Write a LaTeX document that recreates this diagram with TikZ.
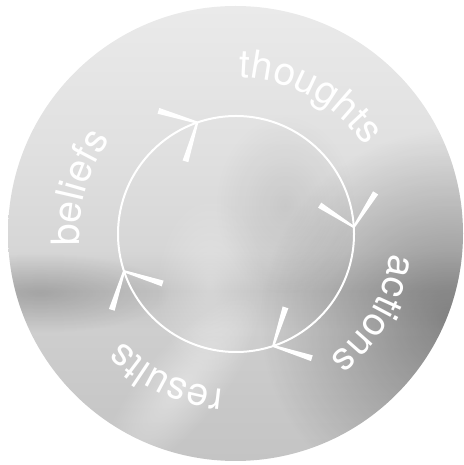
\documentclass[tikz,border=0pt]{standalone}
\usepackage{fontspec}
\setmainfont{TeX Gyre Heros}
\usetikzlibrary{calc,decorations.text,fadings}
\definecolor{m1}{HTML}{EAEAEA}
\definecolor{m2}{HTML}{E0E0E0}
\definecolor{m3}{HTML}{D6D6D6}
\definecolor{m4}{HTML}{C4C4C4}
\definecolor{m5}{HTML}{CECECE}
\definecolor{m6}{HTML}{C8C8C8}
\definecolor{m7}{HTML}{C4C4C4}
\pgfdeclareverticalshading{metal}{100bp}{color(0bp)=(m7); color(25bp)=(m7); color(31.7bp)=(m6); color(39.4bp)=(m5); color(43.75bp)=(m4); color(48.1bp)=(m3); color(59.1bp)=(m2); color(75bp)=(m1); color(100bp)=(m1)}
\tikzfading[name=blob, inner color=transparent!0, outer color=transparent!100]
\newcommand\lblfont{\fontsize{39}{39}\selectfont}
\tikzset{
  ringline/.style={draw=white, line width=2pt},
  armfill/.style={fill=white},
  wordpath/.style={decorate, decoration={text along path, text={|\lblfont|#1}, text align=center, text color=white}}
}
\begin{document}
\begin{tikzpicture}[x=1pt,y=1pt]
\useasboundingbox (0,0) rectangle (463,465);
\coordinate (C) at (235.5,231.5);
\coordinate (O) at (236,231);
\begin{scope}
  \clip (C) circle (227.5);
  \shade[shading=metal] (C) circle (227.5);
  \fill[black, path fading=blob, fill opacity=0.36] (450,145) ellipse (190 and 190);
  \fill[black, path fading=blob, fill opacity=0.16] (40,172) ellipse (130 and 40);
  \fill[black, path fading=blob, fill opacity=0.08] (285,260) ellipse (70 and 90);
  \fill[white, path fading=blob, fill opacity=0.3] (210,180) ellipse (55 and 90);
  \begin{scope}[transform canvas={shift={(180pt,78pt)}, rotate=-40}]
    \fill[white, path fading=blob, fill opacity=0.4] (0,0) ellipse (40 and 115);
  \end{scope}
\end{scope}
\draw[ringline] (O) circle (118);
\foreach \t [count=\i] in {109.2,3.4,-71.6,198.4}{
  \coordinate (tip\i) at ($(O)+(\t:118)$);
  \foreach \d in {54,144}{
    \fill[armfill] ($(tip\i)+({\t+\d+90}:1.1)$) -- ($(tip\i)+({\t+\d-90}:1.1)$)
      -- ($(tip\i)+({\t+\d}:40.5)+({\t+\d-90}:3)$) -- ($(tip\i)+({\t+\d}:40.5)+({\t+\d+90}:3)$) -- cycle;
  }
}
\path[wordpath=thoughts] ($(C)+(111.3:156)$) arc[start angle=111.3, end angle=11.3, radius=156];
\path[wordpath=actions] ($(C)+(20:156)$) arc[start angle=20, end angle=-80, radius=156];
\path[wordpath=results] ($(C)+(-65.4:156)$) arc[start angle=-65.4, end angle=-165.4, radius=156];
\path[wordpath=beliefs] ($(C)+(213.8:156)$) arc[start angle=213.8, end angle=113.8, radius=156];
\end{tikzpicture}
\end{document}
